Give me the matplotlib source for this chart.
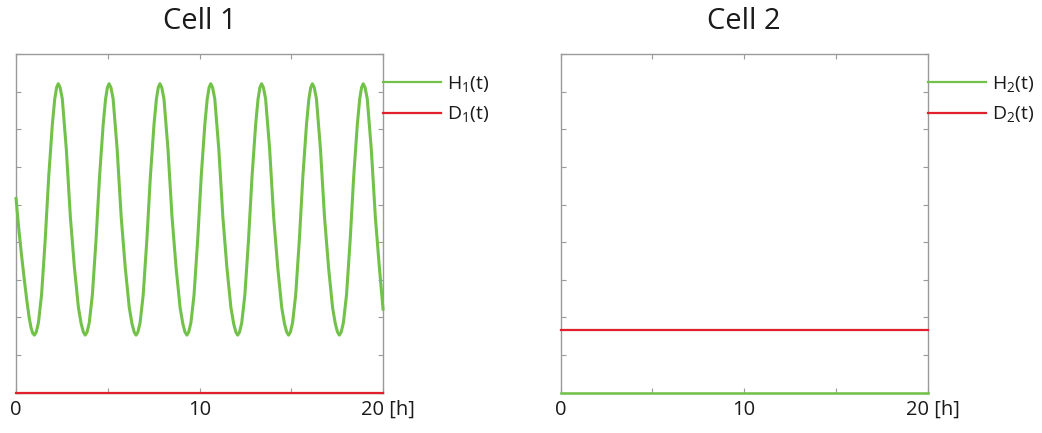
import matplotlib
matplotlib.use("Agg")
import matplotlib.pyplot as plt
import matplotlib.transforms as mtransforms

plt.rcParams["font.family"] = ["Open Sans", "DejaVu Sans"]
plt.rcParams["mathtext.default"] = "regular"

# time [h] and H1 values
t_h1 = [
    0.00, 0.15, 0.30, 0.45, 0.60, 0.72, 0.82, 0.91,
    1.00, 1.10, 1.22, 1.39, 1.59, 1.78, 1.98, 2.11, 2.21, 2.30, 2.40, 2.52, 2.74, 2.96, 3.18, 3.40, 3.55, 3.67,
    3.77, 3.87, 3.99, 4.16, 4.36, 4.55, 4.75, 4.88, 4.98, 5.07, 5.17, 5.29, 5.51, 5.73, 5.95, 6.17, 6.32, 6.44,
    6.54, 6.64, 6.76, 6.93, 7.13, 7.32, 7.52, 7.65, 7.75, 7.84, 7.94, 8.06, 8.28, 8.50, 8.72, 8.94, 9.09, 9.21,
    9.31, 9.41, 9.53, 9.70, 9.90, 10.09, 10.29, 10.42, 10.52, 10.61, 10.71, 10.83, 11.05, 11.27, 11.49, 11.71, 11.86, 11.98,
    12.08, 12.18, 12.30, 12.47, 12.67, 12.86, 13.06, 13.19, 13.29, 13.38, 13.48, 13.60, 13.82, 14.04, 14.26, 14.48, 14.63, 14.75,
    14.85, 14.95, 15.07, 15.24, 15.44, 15.63, 15.83, 15.96, 16.06, 16.15, 16.25, 16.37, 16.59, 16.81, 17.03, 17.25, 17.40, 17.52,
    17.62, 17.72, 17.84, 18.01, 18.21, 18.40, 18.60, 18.73, 18.83, 18.92, 19.02, 19.14, 19.36, 19.58, 19.80, 20.00,
]
h1 = [
    5.16, 4.35, 3.65, 3.00, 2.40, 1.98, 1.72, 1.58,
    1.53, 1.61, 1.86, 2.60, 4.07, 5.74, 7.14, 7.81, 8.11, 8.21, 8.11, 7.81, 6.47, 4.67, 3.33, 2.26, 1.83, 1.61,
    1.53, 1.61, 1.86, 2.60, 4.07, 5.74, 7.14, 7.81, 8.11, 8.21, 8.11, 7.81, 6.47, 4.67, 3.33, 2.26, 1.83, 1.61,
    1.53, 1.61, 1.86, 2.60, 4.07, 5.74, 7.14, 7.81, 8.11, 8.21, 8.11, 7.81, 6.47, 4.67, 3.33, 2.26, 1.83, 1.61,
    1.53, 1.61, 1.86, 2.60, 4.07, 5.74, 7.14, 7.81, 8.11, 8.21, 8.11, 7.81, 6.47, 4.67, 3.33, 2.26, 1.83, 1.61,
    1.53, 1.61, 1.86, 2.60, 4.07, 5.74, 7.14, 7.81, 8.11, 8.21, 8.11, 7.81, 6.47, 4.67, 3.33, 2.26, 1.83, 1.61,
    1.53, 1.61, 1.86, 2.60, 4.07, 5.74, 7.14, 7.81, 8.11, 8.21, 8.11, 7.81, 6.47, 4.67, 3.33, 2.26, 1.83, 1.61,
    1.53, 1.61, 1.86, 2.60, 4.07, 5.74, 7.14, 7.81, 8.11, 8.21, 8.11, 7.81, 6.47, 4.67, 3.33, 2.22,
]

# constant traces
t_flat = [0, 20]
d1 = [0.0, 0.0]
h2 = [0.0, 0.0]
d2 = [1.66, 1.66]

titles = ["Cell 1", "Cell 2"]
xtick_vals = [0, 5, 10, 15, 20]
xtick_text = ["0", "", "10", "", "20 [h]"]

green = "#72c24a"
red = "#e2202c"
spine_gray = "#9a9a9a"

fig = plt.figure(figsize=(10.42, 4.33), dpi=100)
ax1 = fig.add_axes([0.0154, 0.0931, 0.3522, 0.7822])
ax2 = fig.add_axes([0.5381, 0.0931, 0.3522, 0.7822])


def style_axes(ax, title):
    ax.set_xlim(0, 20)
    ax.set_ylim(0, 9)
    for s in ax.spines.values():
        s.set_color(spine_gray)
        s.set_linewidth(1.0)
    ax.set_xticks(xtick_vals)
    ax.set_xticklabels(xtick_text)
    ax.set_yticks(range(0, 10))
    ax.set_yticklabels([])
    ax.tick_params(direction="in", length=3.5, width=0.8, color=spine_gray,
                   top=True, right=True, labelsize=14.5, pad=5, labelcolor="#1a1a1a")
    # shift the "20 [h]" label so the number sits under its tick
    lab = ax.get_xticklabels()[-1]
    off = mtransforms.ScaledTranslation(5 / 100, 0, fig.dpi_scale_trans)
    lab.set_transform(lab.get_transform() + off)
    ax.set_title(title, fontsize=21, pad=18, color="#1a1a1a")


# Cell 1
ax1.plot(t_h1, h1, color=green, lw=2.2, label="H$_1$(t)", clip_on=False,
         zorder=3, solid_joinstyle="round")
ax1.plot(t_flat, d1, color=red, lw=1.6, label="D$_1$(t)", clip_on=False, zorder=4)
style_axes(ax1, titles[0])

# Cell 2
ax2.plot(t_flat, h2, color=green, lw=1.8, label="H$_2$(t)", clip_on=False, zorder=4)
ax2.plot(t_flat, d2, color=red, lw=1.6, label="D$_2$(t)", clip_on=False, zorder=3)
style_axes(ax2, titles[1])

for ax in (ax1, ax2):
    leg = ax.legend(loc="upper left", bbox_to_anchor=(1.0, 0.942), frameon=False,
                    fontsize=14, handlelength=3.0, handletextpad=0.3,
                    labelspacing=0.55, borderpad=0, borderaxespad=0,
                    labelcolor="#1a1a1a")
    for h in leg.get_lines():
        h.set_linewidth(1.6)

fig.savefig("out.png", dpi=100)
